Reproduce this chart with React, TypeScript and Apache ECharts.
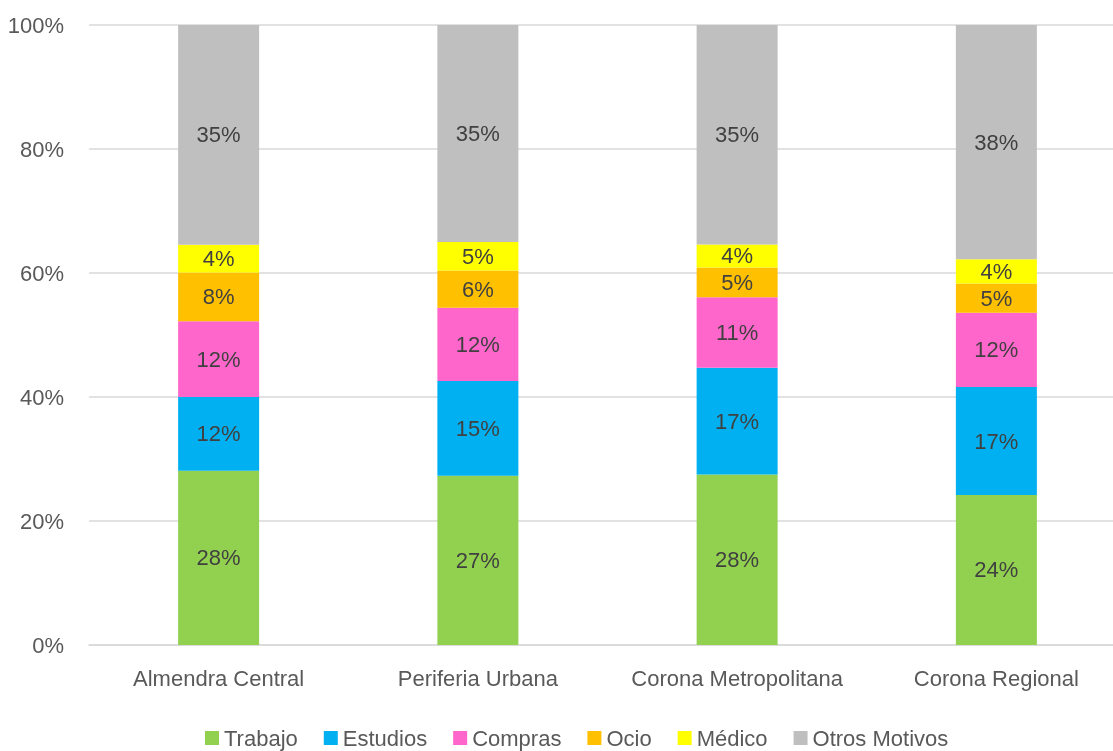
import React, { useEffect, useRef } from "react";
import * as echarts from "echarts";

const categories = ["Almendra Central", "Periferia Urbana", "Corona Metropolitana", "Corona Regional"];
const seriesNames = ["Trabajo", "Estudios", "Compras", "Ocio", "Médico", "Otros Motivos"];
const trabajo = [28.1, 27.3, 27.5, 24.2];
const estudios = [11.9, 15.3, 17.2, 17.4];
const compras = [12.2, 11.8, 11.4, 12.0];
const ocio = [7.9, 6.0, 4.8, 4.7];
const medico = [4.45, 4.6, 3.7, 3.9];
const otros = [35.45, 35.0, 35.4, 37.8];
const colors = ["#92D050", "#00B0F0", "#FF66CC", "#FFC000", "#FFFF00", "#BFBFBF"];
const yTicks = [0, 20, 40, 60, 80, 100];

const FONT = "'Liberation Sans', Arial, sans-serif";
const FS = 22;

export default function App() {
  const ref = useRef<HTMLDivElement>(null);
  useEffect(() => {
    if (!ref.current) return;
    const chart = echarts.init(ref.current, null, { renderer: "svg" });
    const values = [trabajo, estudios, compras, ocio, medico, otros];
    chart.setOption({
      animation: false,
      textStyle: { fontFamily: FONT },
      grid: { left: 89, top: 25, width: 1037, height: 620 },
      legend: {
        top: 722,
        left: 200,
        icon: "rect",
        itemWidth: 14,
        itemHeight: 14,
        itemGap: 26,
        textStyle: { fontSize: FS, color: "#595959", fontFamily: FONT },
        data: seriesNames,
      },
      xAxis: {
        type: "category",
        data: categories,
        axisLine: { show: true, lineStyle: { color: "#d9d9d9", width: 1.5 } },
        axisTick: { show: false },
        axisLabel: { interval: 0, fontSize: FS, color: "#595959", margin: 22, fontFamily: FONT },
      },
      yAxis: {
        type: "value",
        min: yTicks[0],
        max: yTicks[yTicks.length - 1],
        interval: 20,
        axisLine: { show: false },
        axisTick: { show: false },
        axisLabel: { fontSize: FS, color: "#595959", margin: 25, formatter: "{value}%", fontFamily: FONT },
        splitLine: { lineStyle: { color: "#d9d9d9", width: 1.5 } },
      },
      series: seriesNames.map((name, i) => ({
        name,
        type: "bar",
        stack: "total",
        barWidth: 81,
        data: values[i],
        itemStyle: { color: colors[i] },
        label: {
          show: true,
          position: "inside",
          fontSize: FS,
          color: "#404040",
          fontFamily: FONT,
          formatter: (p: any) => Math.round(p.value) + "%",
        },
      })),
    });
    return () => chart.dispose();
  }, []);
  return (
    <div style={{ position: "fixed", left: 0, top: 0, width: 1113, height: 751, overflow: "hidden" }}>
      <div ref={ref} style={{ width: 1126, height: 751 }} />
    </div>
  );
}
